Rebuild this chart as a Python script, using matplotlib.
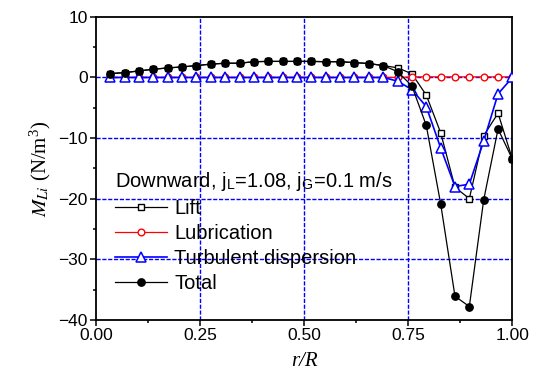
import matplotlib
matplotlib.use('Agg')
import matplotlib.pyplot as plt
import numpy as np
from matplotlib.ticker import MultipleLocator

plt.rcParams['font.family'] = 'Liberation Sans'
plt.rcParams['mathtext.fontset'] = 'stix'

# radial positions r/R
r = np.arange(1, 30) / 29.0

lift = [0.64, 0.8, 1.08, 1.36, 1.57, 1.74, 1.96, 2.2, 2.35, 2.35,
        2.6, 2.65, 2.65, 2.65, 2.65, 2.6, 2.6, 2.45, 2.3, 1.96,
        1.6, 0.6, -2.9, -9.1, -18.1, -20.0, -9.6, -5.9, -13.5]
lubrication = [0.0] * 21 + [0.1, 0.1, 0.1, 0.1, 0.1, 0.1, 0.1, 0.1]
turb_disp = [0.0] * 20 + [-0.6, -2.0, -4.8, -11.6, -18.0, -17.6, -10.5, -2.7, 0.0]
total = [0.64, 0.8, 1.08, 1.36, 1.57, 1.74, 1.96, 2.2, 2.35, 2.35,
         2.6, 2.65, 2.65, 2.65, 2.65, 2.6, 2.6, 2.45, 2.3, 1.96,
         0.97, -1.4, -7.9, -20.8, -36.1, -37.8, -20.2, -8.5, -13.5]

fig = plt.figure(figsize=(5.36, 3.92), dpi=100)
ax = fig.add_axes([0.179, 0.184, 0.777, 0.773])

ax.plot(r, lift, color='black', lw=0.9, marker='s', ms=3.8,
        mfc='white', mec='black', mew=1.0, label='Lift', zorder=3)
ax.plot(r, lubrication, color='red', lw=0.9, marker='o', ms=4.8,
        mfc='white', mec='red', mew=1.0, label='Lubrication', zorder=3)
ax.plot(r, turb_disp, color='blue', lw=1.2, marker='^', ms=6.5,
        mfc='white', mec='blue', mew=1.1, label='Turbulent dispersion', zorder=4)
ax.plot(r, total, color='black', lw=0.9, marker='o', ms=5.3,
        mfc='black', mec='black', label='Total', zorder=5)

ax.set_xlim(0, 1.0)
ax.set_ylim(-40, 10)
ax.xaxis.set_major_locator(MultipleLocator(0.25))
ax.xaxis.set_minor_locator(MultipleLocator(0.125))
ax.yaxis.set_major_locator(MultipleLocator(10))
ax.yaxis.set_minor_locator(MultipleLocator(5))
ax.set_xticks([0, 0.25, 0.5, 0.75, 1.0])
ax.set_xticklabels(['0.00', '0.25', '0.50', '0.75', '1.00'])

for xg in [0.25, 0.5, 0.75]:
    ax.axvline(xg, color='blue', lw=1.0, ls=(0, (3, 1.2)), zorder=1)
for yg in [0, -10, -20, -30]:
    ax.axhline(yg, color='blue', lw=1.0, ls=(0, (3, 1.2)), zorder=1)

ax.tick_params(which='major', direction='out', length=4, width=1.1,
               labelsize=12.5, pad=2)
ax.tick_params(which='minor', direction='out', length=2.5, width=1.1)
ax.tick_params(top=False, right=False)
for sp in ax.spines.values():
    sp.set_linewidth(1.3)

ax.set_xlabel('r/R', fontsize=15, fontfamily='Liberation Serif',
              fontstyle='italic', labelpad=6)
ax.set_ylabel(r'$M_{Li}$ (N/m$^\mathregular{3}$)', fontsize=15,
              fontfamily='Liberation Serif', labelpad=4)

leg = ax.legend(title=r'Downward, j$_\mathregular{L}$=1.08, j$_\mathregular{G}$=0.1 m/s',
                loc='upper left', bbox_to_anchor=(0.045, 0.495),
                frameon=False, fontsize=14.5, title_fontsize=14.5,
                alignment='left', borderpad=0, borderaxespad=0,
                handlelength=2.6, handletextpad=0.35, labelspacing=0.3)
leg.set_zorder(6)

fig.savefig('out.png', dpi=100)
